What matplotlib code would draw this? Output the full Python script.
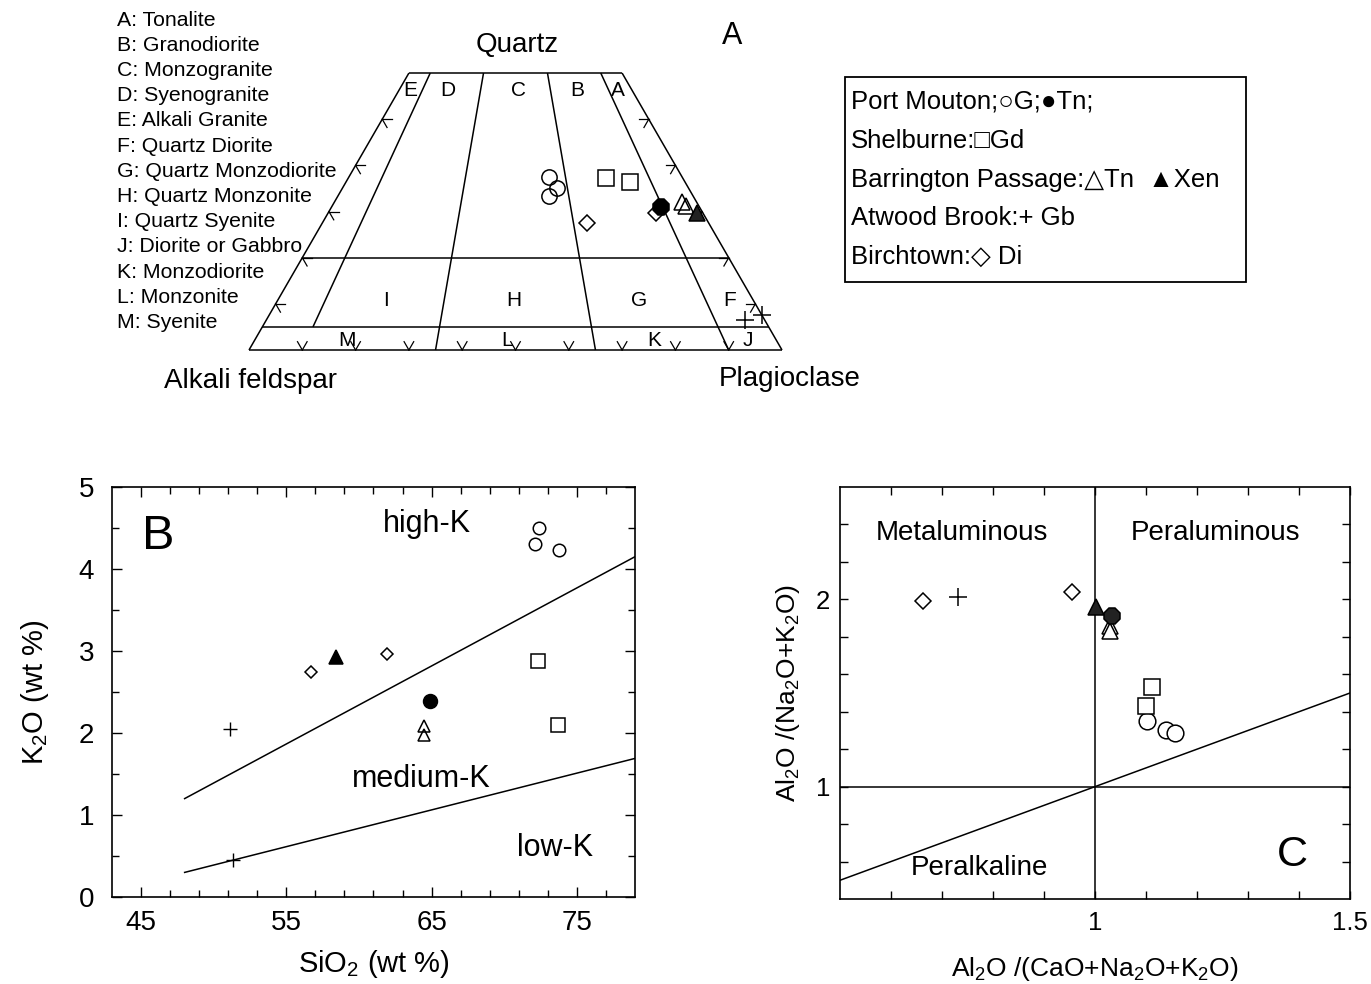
import numpy as np
import matplotlib
matplotlib.use('Agg')
import matplotlib.pyplot as plt
from matplotlib.ticker import FixedLocator
from matplotlib.patches import Rectangle

plt.rcParams['font.family'] = ['Liberation Sans', 'DejaVu Sans']
plt.rcParams['mathtext.fontset'] = 'custom'
plt.rcParams['mathtext.rm'] = 'Liberation Sans'
plt.rcParams['mathtext.default'] = 'regular'

# ---- A: QAP modes (%), Q and P (A = 100 - Q - P)
pm_g_q = [37.5, 35.0, 33.4]
pm_g_p = [37.5, 40.3, 39.6]
pm_tn_q = [31.0]
pm_tn_p = [61.8]
sh_gd_q = [37.2, 36.5]
sh_gd_p = [48.3, 53.2]
bp_tn_q = [32.1, 31.3]
bp_tn_p = [65.1, 66.3]
bp_xen_q = [29.7]
bp_xen_p = [69.2]
ab_gb_q = [6.5, 7.6]
ab_gb_p = [89.8, 92.4]
bt_di_q = [27.5, 29.7]
bt_di_p = [49.7, 61.5]

# field boundaries: Q levels and P/(A+P) ratios
q_levels = [0, 5, 20, 60]
p_ratios = [10, 35, 65, 90]
field_labels = ['A: Tonalite', 'B: Granodiorite', 'C: Monzogranite', 'D: Syenogranite',
                'E: Alkali Granite', 'F: Quartz Diorite', 'G: Quartz Monzodiorite',
                'H: Quartz Monzonite', 'I: Quartz Syenite', 'J: Diorite or Gabbro',
                'K: Monzodiorite', 'L: Monzonite', 'M: Syenite']

# ---- B: SiO2 vs K2O (wt %)
pm_g_si = [72.4, 72.1, 73.8]
pm_g_k = [4.50, 4.31, 4.23]
pm_tn_si = [64.9]
pm_tn_k = [2.39]
sh_gd_si = [72.3, 73.7]
sh_gd_k = [2.88, 2.10]
bp_tn_si = [64.5, 64.5]
bp_tn_k = [2.09, 1.97]
bp_xen_si = [58.4]
bp_xen_k = [2.93]
ab_gb_si = [51.1, 51.3]
ab_gb_k = [2.05, 0.45]
bt_di_si = [56.7, 61.9]
bt_di_k = [2.75, 2.96]
hk_si = [48, 79]
hk_k = [1.2, 4.15]
lk_si = [48, 79]
lk_k = [0.3, 1.69]

# ---- C: A/CNK vs A/NK
pm_g_acnk = [1.101, 1.140, 1.157]
pm_g_ank = [1.35, 1.30, 1.285]
pm_tn_acnk = [1.033]
pm_tn_ank = [1.91]
sh_gd_acnk = [1.112, 1.100]
sh_gd_ank = [1.53, 1.43]
bp_tn_acnk = [1.029, 1.029]
bp_tn_ank = [1.86, 1.83]
bp_xen_acnk = [1.002]
bp_xen_ank = [1.96]
ab_gb_acnk = [0.732]
ab_gb_ank = [2.015]
bt_di_acnk = [0.662, 0.955]
bt_di_ank = [1.99, 2.04]
sat_line = [0.5, 1.5]

W, H = 1371, 984
fig = plt.figure(figsize=(W / 100, H / 100), dpi=100)
fig.patch.set_facecolor('white')


def tern(q, p):
    q = np.asarray(q, dtype=float) / 100
    p = np.asarray(p, dtype=float) / 100
    return p + q / 2, q * np.sqrt(3) / 2


def px(xp, yp):
    # pixel position in the reference -> ternary axes coords
    return (xp - 249) / 533, (350 - yp) / 533


# ================= panel A =================
ax_a = fig.add_axes([0, (H - 420) / H, 1, 420 / H])
ax_a.set_xlim(-249 / 533, (W - 249) / 533)
ax_a.set_ylim((350 - 420) / 533, 350 / 533)
ax_a.axis('off')
lk = dict(color='black', lw=1.1, solid_capstyle='butt')

for q in q_levels:
    x0, y0 = tern(q, 0)
    x1, y1 = tern(q, 100 - q)
    ax_a.plot([x0, x1], [y0, y1], **lk)
for p0 in [0, 100]:
    xs, ys = tern([0, 60], [p0, p0 * 0.4])
    ax_a.plot(xs, ys, **lk)
for r in p_ratios:
    qs = np.array([5 if r == 10 else 0, 60])
    xs, ys = tern(qs, r * (100 - qs) / 100)
    ax_a.plot(xs, ys, **lk)

# small tick stubs on edges
L = 0.018
s3 = np.sqrt(3) / 2
for q in [10, 20, 30, 40, 50]:
    x, y = tern(q, 0)
    for dx, dy in [(1, 0), (0.5, -s3)]:
        ax_a.plot([x, x + L * dx], [y, y + L * dy], color='black', lw=0.9)
    x, y = tern(q, 100 - q)
    for dx, dy in [(-1, 0), (-0.5, -s3)]:
        ax_a.plot([x, x + L * dx], [y, y + L * dy], color='black', lw=0.9)
for p in range(10, 100, 10):
    x, y = tern(0, p)
    for dx, dy in [(0.5, s3), (-0.5, s3)]:
        ax_a.plot([x, x + L * dx], [y, y + L * dy], color='black', lw=0.9)

mk = dict(linestyle='none', markeredgecolor='black', markeredgewidth=1.1)
ax_a.plot(*tern(pm_g_q, pm_g_p), marker='o', ms=11, mfc='none', **mk)
ax_a.plot(*tern(sh_gd_q, sh_gd_p), marker='s', ms=11, mfc='none', **mk)
ax_a.plot(*tern(bt_di_q, bt_di_p), marker='D', ms=8, mfc='white', **mk)
ax_a.plot(*tern(pm_tn_q, pm_tn_p), marker='8', ms=12, mfc='black', **mk)
ax_a.plot(*tern(bp_tn_q, bp_tn_p), marker='^', ms=11, mfc='none', **mk)
ax_a.plot(*tern(bp_xen_q, bp_xen_p), marker='^', ms=11, mfc='#222222', **mk)
ax_a.plot(*tern(ab_gb_q, ab_gb_p), marker='+', ms=13, mew=1.1, color='black', linestyle='none')

for lab, xp, yp in [('E', 410, 91), ('D', 448, 91), ('C', 519, 91), ('B', 577, 91), ('A', 618, 91),
                    ('I', 386, 301), ('H', 514, 301), ('G', 639, 301), ('F', 730, 300),
                    ('M', 347, 340), ('L', 507, 340), ('K', 654, 340), ('J', 748, 340)]:
    ax_a.text(*px(xp, yp), lab, fontsize=15, ha='center', va='center')

ax_a.text(*px(517, 45), 'Quartz', fontsize=20, ha='center', va='center')
ax_a.text(*px(251, 381), 'Alkali feldspar', fontsize=20, ha='center', va='center')
ax_a.text(*px(790, 379), 'Plagioclase', fontsize=20, ha='center', va='center')
ax_a.text(*px(732, 36), 'A', fontsize=22, ha='center', va='center')

for i, lab in enumerate(field_labels):
    fig.text(117 / W, 1 - (20 + i * 25.2) / H, lab, fontsize=15.3, ha='left', va='center')

# legend box
fig.patches.append(Rectangle((845 / W, 1 - 282 / H), 401 / W, 205 / H, transform=fig.transFigure,
                             fill=False, edgecolor='black', lw=1.3))
leg_rows = ['Port Mouton;\u25cbG;\u25cfTn;',
            'Shelburne:\u25a1Gd',
            'Barrington Passage:\u25b3Tn  \u25b2Xen',
            'Atwood Brook:+ Gb',
            'Birchtown:\u25c7 Di']
for i, row in enumerate(leg_rows):
    fig.text(851 / W, 1 - (102 + i * 38.8) / H, row, fontsize=18.5, ha='left', va='center')

# ================= panel B =================
ax_b = fig.add_axes([112 / W, (H - 897) / H, 523 / W, 410 / H])
ax_b.plot(hk_si, hk_k, color='black', lw=1.1)
ax_b.plot(lk_si, lk_k, color='black', lw=1.1)
ax_b.plot(pm_g_si, pm_g_k, marker='o', ms=9, mfc='none', **mk)
ax_b.plot(sh_gd_si, sh_gd_k, marker='s', ms=9.5, mfc='none', **mk)
ax_b.plot(bt_di_si, bt_di_k, marker='D', ms=6.5, mfc='none', **mk)
ax_b.plot(pm_tn_si, pm_tn_k, marker='o', ms=10, mfc='black', **mk)
ax_b.plot(bp_tn_si, bp_tn_k, marker='^', ms=9, mfc='none', **mk)
ax_b.plot(bp_xen_si, bp_xen_k, marker='^', ms=10, mfc='black', **mk)
ax_b.plot(ab_gb_si, ab_gb_k, marker='+', ms=10, mew=1.0, color='black', linestyle='none')
ax_b.set_xlim(43, 79)
ax_b.set_ylim(0, 5)
ax_b.set_xticks([45, 55, 65, 75])
ax_b.set_yticks([0, 1, 2, 3, 4, 5])
ax_b.xaxis.set_minor_locator(FixedLocator(np.arange(45, 79, 2)))
ax_b.yaxis.set_minor_locator(FixedLocator(np.arange(0.5, 5, 1)))
ax_b.tick_params(which='both', direction='in', top=True, right=True, width=1.0)
ax_b.tick_params(which='major', length=7, labelsize=20, pad=9)
ax_b.tick_params(which='minor', length=5)
ax_b.tick_params(axis='y', pad=13)
for s in ax_b.spines.values():
    s.set_linewidth(1.2)
ax_b.set_xlabel('SiO$_2$ (wt %)', fontsize=21, labelpad=9)
ax_b.set_ylabel('K$_2$O (wt %)', fontsize=21, labelpad=20)
ax_b.text(64.7, 4.55, 'high-K', fontsize=22, ha='center', va='center')
ax_b.text(64.3, 1.44, 'medium-K', fontsize=22, ha='center', va='center')
ax_b.text(73.5, 0.60, 'low-K', fontsize=22, ha='center', va='center')
ax_b.text(46.2, 4.40, 'B', fontsize=35, ha='center', va='center')

# ================= panel C =================
ax_c = fig.add_axes([840 / W, (H - 899) / H, 510 / W, 412 / H])
ax_c.axvline(1, color='black', lw=1.1)
ax_c.axhline(1, color='black', lw=1.1)
ax_c.plot(sat_line, sat_line, color='black', lw=1.1)
ax_c.plot(bt_di_acnk, bt_di_ank, marker='D', ms=8, mfc='none', **mk)
ax_c.plot(ab_gb_acnk, ab_gb_ank, marker='+', ms=13, mew=1.1, color='black', linestyle='none')
ax_c.plot(pm_g_acnk, pm_g_ank, marker='o', ms=12, mfc='white', **mk)
ax_c.plot(sh_gd_acnk, sh_gd_ank, marker='s', ms=11, mfc='white', **mk)
ax_c.plot(bp_tn_acnk, bp_tn_ank, marker='^', ms=11, mfc='white', **mk)
ax_c.plot(bp_xen_acnk, bp_xen_ank, marker='^', ms=12, mfc='#222222', **mk)
ax_c.plot(pm_tn_acnk, pm_tn_ank, marker='8', ms=12, mfc='#222222', **mk)
ax_c.set_xlim(0.5, 1.5)
ax_c.set_ylim(0.4, 2.6)
ax_c.set_xticks([1, 1.5])
ax_c.set_xticklabels(['1', '1.5'])
ax_c.set_yticks([1, 2])
ax_c.xaxis.set_minor_locator(FixedLocator(np.arange(0.6, 1.5, 0.1)))
ax_c.yaxis.set_minor_locator(FixedLocator(np.arange(0.6, 2.6, 0.2)))
ax_c.tick_params(which='both', direction='in', top=True, right=True, width=1.0, length=6)
ax_c.tick_params(which='major', labelsize=18.5, pad=9)
ax_c.tick_params(axis='y', pad=7)
for s in ax_c.spines.values():
    s.set_linewidth(1.2)
ax_c.set_xlabel('Al$_2$O /(CaO+Na$_2$O+K$_2$O)', fontsize=19, labelpad=14)
ax_c.set_ylabel('Al$_2$O /(Na$_2$O+K$_2$O)', fontsize=19, labelpad=10)
ax_c.text(0.739, 2.354, 'Metaluminous', fontsize=20, ha='center', va='center')
ax_c.text(1.237, 2.354, 'Peraluminous', fontsize=20, ha='center', va='center')
ax_c.text(0.773, 0.566, 'Peralkaline', fontsize=20, ha='center', va='center')
ax_c.text(1.387, 0.635, 'C', fontsize=31, ha='center', va='center')

fig.savefig('out.png', dpi=100, facecolor='white')
